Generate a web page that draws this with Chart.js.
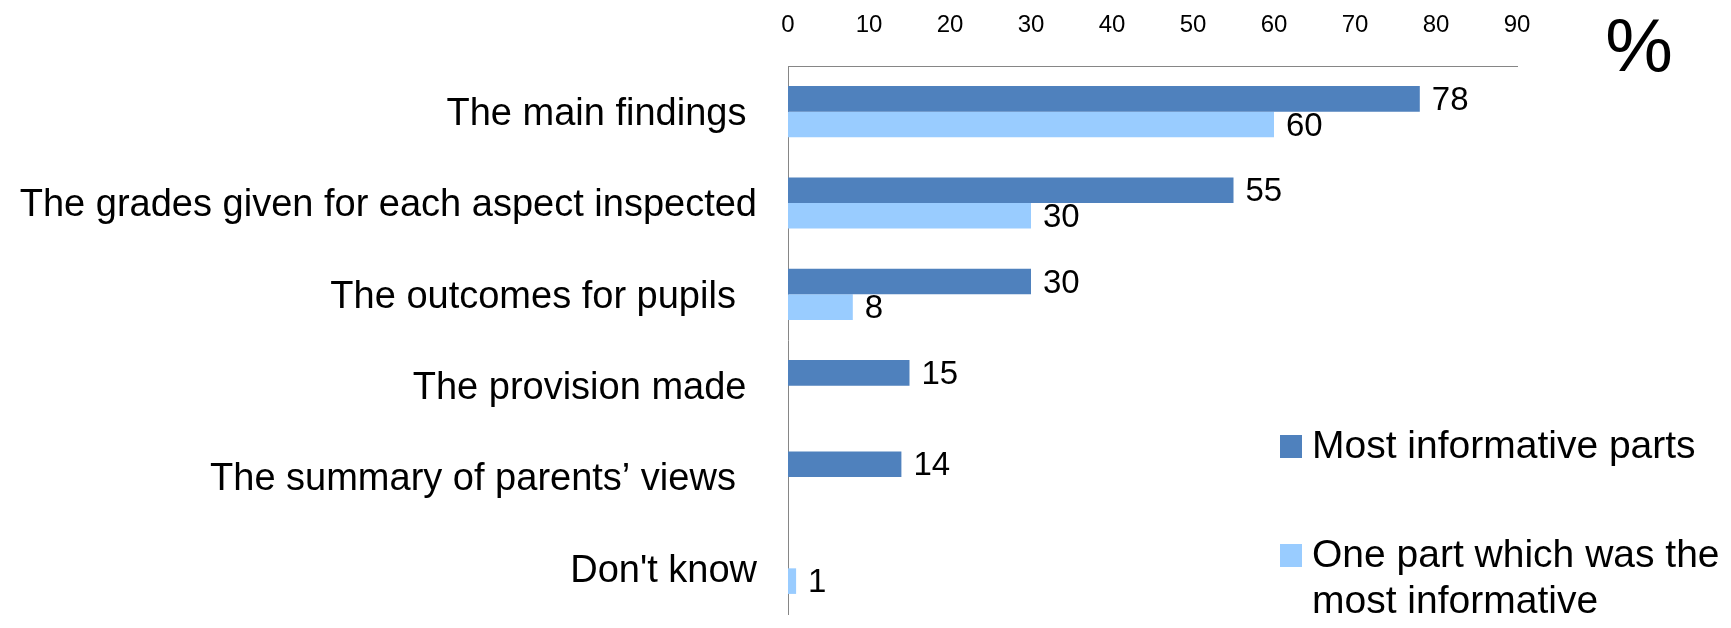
<!DOCTYPE html>
<html><head><meta charset="utf-8">
<script src="https://cdn.jsdelivr.net/npm/chart.js@4.4.1/dist/chart.umd.min.js"></script>
<style>html,body{margin:0;padding:0;background:#fff;} #wrap{width:1731px;height:628px;position:relative;}</style>
</head><body><div id="wrap"><canvas id="c" width="1731" height="628"></canvas></div>
<script>
const categories = ["The main findings ", "The grades given for each aspect inspected", "The outcomes for pupils  ", "The provision made ", "The summary of parents\u2019 views  ", "Don't know"];
const mostInformative = [78, 55, 30, 15, 14, null];
const onePartMost = [60, 30, 8, null, null, 1];
const seriesNames = ["Most informative parts", "One part which was the most informative"];
const xTickValues = [0, 10, 20, 30, 40, 50, 60, 70, 80, 90];
const unitLabel = "%";

const FONT = "'Liberation Sans', Arial, sans-serif";
const colors = ["#4F81BD", "#99CCFF"];

const valueLabels = {
  id: 'valueLabels',
  afterDatasetsDraw(chart) {
    const ctx = chart.ctx;
    ctx.save();
    ctx.font = "33px " + FONT;
    ctx.fillStyle = "#000";
    ctx.textAlign = "left";
    ctx.textBaseline = "middle";
    chart.data.datasets.forEach((ds, i) => {
      const meta = chart.getDatasetMeta(i);
      meta.data.forEach((el, j) => {
        const v = ds.data[j];
        if (v === null || v === undefined) return;
        ctx.fillText(String(v), el.x + 12, el.y + 2);
      });
    });
    ctx.restore();
  }
};

const sideDecor = {
  id: 'sideDecor',
  afterDraw(chart) {
    const ctx = chart.ctx;
    const area = chart.chartArea;
    ctx.save();
    ctx.font = "76px " + FONT;
    ctx.fillStyle = "#000";
    ctx.textAlign = "center";
    ctx.textBaseline = "middle";
    ctx.fillText(unitLabel, area.right + 122, 50);
    ctx.font = "39px " + FONT;
    ctx.textAlign = "left";
    const lx = 1280, tx = 1312;
    const startY = [447, 556];
    const lineH = 46;
    const maxW = 1731 - tx - 4;
    chart.data.datasets.forEach((ds, i) => {
      const words = ds.label.split(' ');
      const lines = [];
      let cur = '';
      words.forEach(w => {
        const t = cur ? cur + ' ' + w : w;
        if (ctx.measureText(t).width > maxW && cur) { lines.push(cur); cur = w; } else cur = t;
      });
      if (cur) lines.push(cur);
      const y0 = startY[i];
      ctx.fillStyle = ds.backgroundColor;
      ctx.fillRect(lx, y0 - 12, 22, 23);
      ctx.fillStyle = "#000";
      lines.forEach((ln, k) => ctx.fillText(ln, tx, y0 + k * lineH));
    });
    ctx.restore();
  }
};

new Chart(document.getElementById('c'), {
  type: 'bar',
  data: {
    labels: categories,
    datasets: [
      { label: seriesNames[0], data: mostInformative, backgroundColor: colors[0] },
      { label: seriesNames[1], data: onePartMost, backgroundColor: colors[1] }
    ]
  },
  options: {
    indexAxis: 'y',
    responsive: false,
    animation: false,
    layout: { padding: { left: 0, right: 214, top: 0, bottom: 14 } },
    datasets: { bar: { categoryPercentage: 0.56, barPercentage: 1.0 } },
    plugins: { legend: { display: false }, tooltip: { enabled: false } },
    scales: {
      x: {
        position: 'top',
        min: 0, max: 90,
        afterBuildTicks: s => { s.ticks = xTickValues.map(v => ({ value: v })); },
        afterFit: s => { s.height = 66; s.paddingLeft = 0; s.paddingRight = 0; },
        grid: { display: false, drawTicks: false },
        border: { display: true, color: '#868686', width: 1 },
        ticks: { color: '#000', font: { family: FONT, size: 24 }, padding: 26, maxRotation: 0 }
      },
      y: {
        afterFit: s => { s.width = 788; s.paddingTop = 0; s.paddingBottom = 0; },
        grid: { display: false, drawTicks: false },
        border: { display: true, color: '#868686', width: 1 },
        ticks: { color: '#000', font: { family: FONT, size: 38 }, padding: 31, autoSkip: false, labelOffset: 3 }
      }
    }
  },
  plugins: [valueLabels, sideDecor]
});
</script>
</body></html>
